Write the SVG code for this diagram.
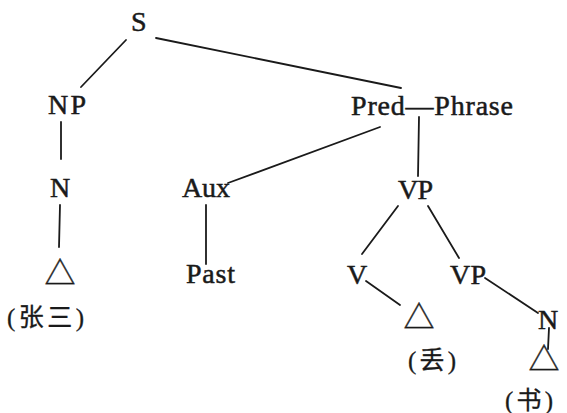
<svg xmlns="http://www.w3.org/2000/svg" width="567" height="413" viewBox="0 0 567 413">
<style>
.t{font-family:"Liberation Serif","Noto Serif CJK SC","Noto Sans CJK SC",serif;font-size:28px;fill:#1a1a1a;stroke:#1a1a1a;stroke-width:0.5}
.c{font-family:"Liberation Serif","Noto Sans CJK SC",serif;font-size:25px;fill:#1a1a1a;stroke:#1a1a1a;stroke-width:0.3}
.tri{font-family:"Noto Sans CJK SC","DejaVu Sans",sans-serif;font-size:31px;fill:#1a1a1a;stroke:#1a1a1a;stroke-width:0.4}
.e line{stroke:#1a1a1a;stroke-width:1.8;stroke-linecap:round}
</style>
<rect width="567" height="413" fill="#fff"/>
<g id="edges" class="e">
<line x1="126" y1="40" x2="81" y2="87"/>
<line x1="156" y1="38" x2="401" y2="88"/>
<line x1="61" y1="122" x2="61" y2="159"/>
<line x1="380" y1="127" x2="228" y2="183"/>
<line x1="419" y1="117" x2="418" y2="176"/>
<line x1="60" y1="205" x2="59" y2="247"/>
<line x1="206" y1="205" x2="206" y2="264"/>
<line x1="398" y1="206" x2="362" y2="254"/>
<line x1="428" y1="206" x2="459" y2="258"/>
<line x1="366" y1="281" x2="400" y2="305"/>
<line x1="485" y1="278" x2="538" y2="313"/>
<line x1="549" y1="328" x2="548" y2="349"/>
</g>
<g id="S"><text class="t" x="131" y="31" textLength="16">S</text></g>
<g id="NP"><text class="t" x="48" y="114" textLength="38">NP</text></g>
<g id="PredPhrase"><text class="t" x="351" y="115" textLength="162">Pred—Phrase</text></g>
<g id="N1"><text class="t" x="50" y="197" textLength="20">N</text></g>
<g id="Aux"><text class="t" x="182" y="197" textLength="48">Aux</text></g>
<g id="VP1"><text class="t" x="398" y="199" textLength="35">VP</text></g>
<g id="tri1"><text class="tri" x="60" y="284" text-anchor="middle">△</text></g>
<g id="Past"><text class="t" x="186" y="283" textLength="49">Past</text></g>
<g id="V"><text class="t" x="347" y="284" textLength="19">V</text></g>
<g id="VP2"><text class="t" x="450" y="284" textLength="36">VP</text></g>
<g id="zhangsan"><text class="c" x="7" y="326" textLength="77">(张三)</text></g>
<g id="tri2"><text class="tri" x="419" y="328" text-anchor="middle">△</text></g>
<g id="N2"><text class="t" x="538" y="329" textLength="28">N</text></g>
<g id="diu"><text class="c" x="408" y="369" textLength="48">(丢)</text></g>
<g id="tri3"><text class="tri" x="544" y="370" text-anchor="middle">△</text></g>
<g id="shu"><text class="c" x="505" y="409" textLength="48">(书)</text></g>
</svg>
